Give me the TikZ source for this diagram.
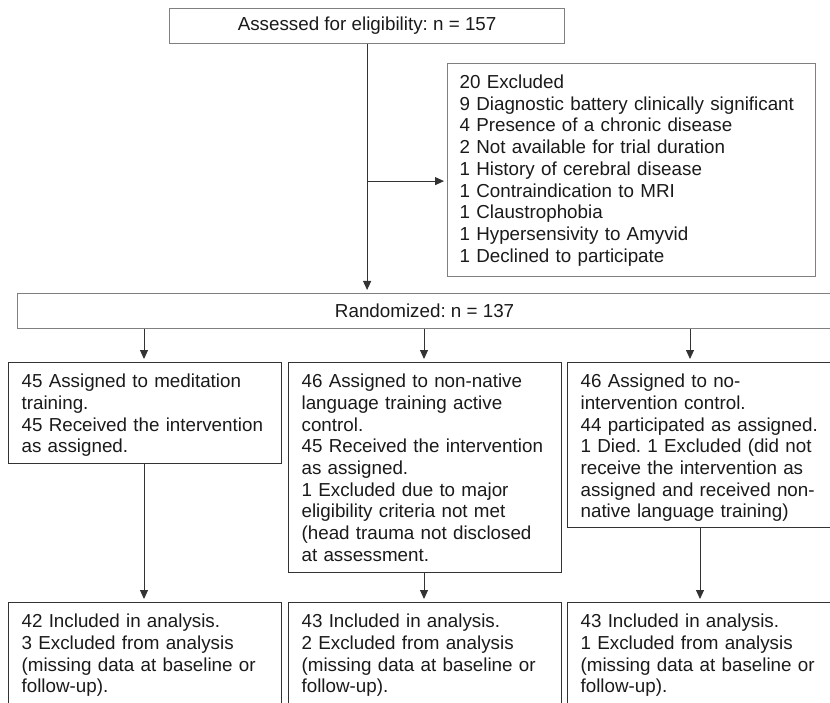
\documentclass[tikz,border=0pt]{standalone}
\usepackage{fontspec}
\setmainfont{Liberation Sans}
\frenchspacing
\usepackage{tikz}
\usetikzlibrary{calc}
\usetikzlibrary{positioning}
\usetikzlibrary{arrows.meta}
\definecolor{inkgray}{HTML}{1A1A1A}
\definecolor{framegray}{HTML}{808080}
\definecolor{armframe}{HTML}{333333}
\tikzstyle{headbox}=[draw=framegray, line width=1.2pt, anchor=north west,
                  minimum height=35pt, inner sep=0pt, text=inkgray,
                  font=\fontsize{18.8pt}{21.7pt}\selectfont]
\tikzstyle{listbox}=[draw=framegray, line width=1.2pt, anchor=north west,
                  inner xsep=12pt, inner ysep=11pt, text height=14pt,
                  align=left, text=inkgray,
                  font=\fontsize{18.8pt}{21.7pt}\selectfont]
\tikzstyle{armbox}=[listbox, draw=armframe, inner xsep=13pt, text width=247pt]
\tikzstyle{flowline}=[draw=armframe, line width=1pt,
                  -{Triangle[length=9pt,width=8pt]}, shorten >=3pt]

\begin{document}
\begin{tikzpicture}[x=1pt, y=-1pt]
      \useasboundingbox (0,0) rectangle (830,703);
      \clip (0,0) rectangle (830,703);
      % Screening and exclusions
      \node[headbox, minimum width=395pt] (assess) at (169,8) {Assessed for eligibility: n = 157};
      \node[listbox, text width=344pt, text depth=177pt] (excl) at (447,63)
        {20 Excluded\\
         9 Diagnostic battery clinically significant\\
         4 Presence of a chronic disease\\
         2 Not available for trial duration\\
         1 History of cerebral disease\\
         1 Contraindication to MRI\\
         1 Claustrophobia\\
         1 Hypersensivity to Amyvid\\
         1 Declined to participate};
      \node[headbox, minimum width=814pt] (rand) at (17,293) {Randomized: n = 137};
      \coordinate (exin) at ([yshift=-11pt]excl.west);
      \draw[flowline] (assess.south) -- (assess.south |- rand.north);
      \draw[flowline] (assess.south |- exin) -- (exin);
      %
      % Place the three arms
      \foreach \name/\place/\deep/\txt in {
          arm1/{(8,362)}/65/{45 Assigned to meditation\\ training.\\ 45 Received the intervention\\ as assigned.},
          arm2/{(288,362)}/174/{46 Assigned to non-native\\ language training active\\ control.\\ 45 Received the intervention\\ as assigned.\\ 1 Excluded due to major\\ eligibility criteria not met\\ (head trauma not disclosed\\ at assessment.},
          arm3/{(567,362)}/129/{46 Assigned to no-\\ intervention control.\\ 44 participated as assigned.\\ 1 Died. 1 Excluded (did not\\ receive the intervention as\\ assigned and received non-\\ native language training)}}
        \node[armbox, text depth=\deep pt] (\name) at \place {\txt};
      %
      % Place analysis boxes
      \foreach \name/\place/\txt in {
          ana1/{(8,602)}/{42 Included in analysis.\\ 3 Excluded from analysis\\ (missing data at baseline or\\ follow-up).},
          ana2/{(288,602)}/{43 Included in analysis.\\ 2 Excluded from analysis\\ (missing data at baseline or\\ follow-up).},
          ana3/{(567,602)}/{43 Included in analysis.\\ 1 Excluded from analysis\\ (missing data at baseline or\\ follow-up).}}
        \node[armbox, text depth=120pt] (\name) at \place {\txt};
      %
      \foreach \i/\xa/\xb in {1/144/144, 2/424/424, 3/690/700} {
        \draw[flowline] (rand.south -| \xa,0) -- (arm\i.north -| \xa,0);
        \draw[flowline] (arm\i.south -| \xb,0) -- (ana\i.north -| \xb,0);
      }
\end{tikzpicture}
\end{document}
